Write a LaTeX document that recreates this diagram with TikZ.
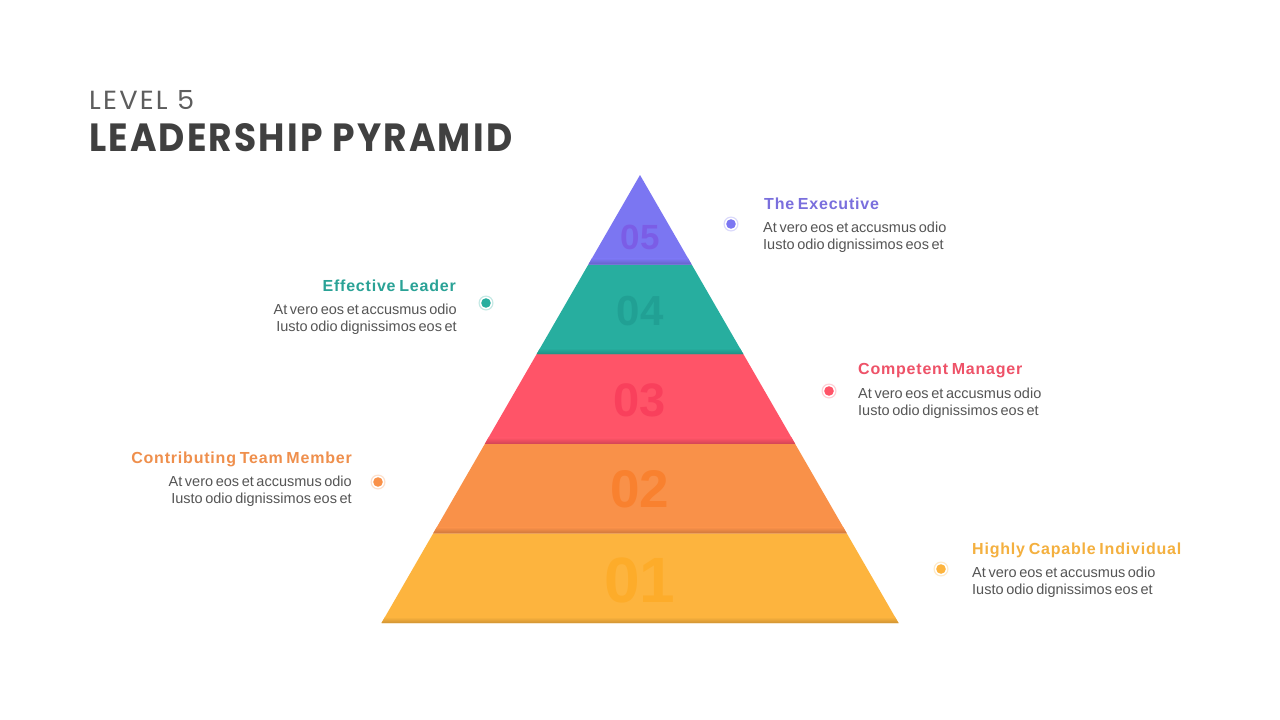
\documentclass[tikz,border=0pt]{standalone}
\usepackage{fontspec}
\setmainfont{Liberation Sans}
\newfontfamily\popfont[LetterSpace=8]{Poppins}
\newfontfamily\popbold[LetterSpace=6]{Poppins}
\newfontfamily\headfont[LetterSpace=5,WordSpace=0.7]{Liberation Sans}
\newfontfamily\bodyfont[WordSpace=0.65]{Liberation Sans}
\usepackage{graphicx}
\definecolor{c5}{HTML}{7B76F2}
\definecolor{c4}{HTML}{27AE9F}
\definecolor{c3}{HTML}{FF5468}
\definecolor{c2}{HTML}{F99149}
\definecolor{c1}{HTML}{FDB43E}
\definecolor{n5}{HTML}{7B5DE6}
\definecolor{n4}{HTML}{21A094}
\definecolor{n3}{HTML}{F9405C}
\definecolor{n2}{HTML}{F9812F}
\definecolor{n1}{HTML}{FDAC2A}
\definecolor{t5}{HTML}{7A6FDD}
\definecolor{t4}{HTML}{2AA296}
\definecolor{t3}{HTML}{EE5268}
\definecolor{t2}{HTML}{EF8F4C}
\definecolor{t1}{HTML}{F4B03F}
\definecolor{bodygrey}{HTML}{555555}
\definecolor{titlegrey}{HTML}{404040}
\tikzset{
  ttl/.style={inner sep=0pt, text=#1, font=\headfont\fontsize{16}{19}\selectfont\bfseries},
  body/.style={inner sep=0pt, text=bodygrey, font=\bodyfont\fontsize{14.5}{17}\selectfont},
  num/.style={inner sep=0pt, text=#1, font=\bfseries},
}
\newcommand{\bandfill}[5]{% color, ytop, hwtop, ybot, hwbot
  \fill[#1] (640-#3,#2) -- (640+#3,#2) -- (640+#5,#4) -- (640-#5,#4) -- cycle;
  \begin{scope}
    \clip (640-#3,#2) -- (640+#3,#2) -- (640+#5,#4) -- (640-#5,#4) -- cycle;
    \shade[top color=#1, bottom color=#1!82!black] (370,#4-6) rectangle (910,#4);
  \end{scope}}
\newcommand{\dotmark}[2]{% coordinate name, color
  \fill[#2!28] (#1) circle (7.5);
  \fill[white] (#1) circle (6.2);
  \fill[#2] (#1) circle (4.8);}
\begin{document}
\begin{tikzpicture}[x=1pt,y=-1pt]
\useasboundingbox (0,0) rectangle (1280,720);
\fill[white] (0,0) rectangle (1280,720);

% title
\node[inner sep=0pt, anchor=south west, text=titlegrey!85] (lvl) at (89,110)
  {\resizebox{105pt}{19pt}{\popfont LEVEL 5}};
\node[inner sep=0pt, anchor=south west, text=titlegrey] (ttlmain) at (89,152)
  {\resizebox{423pt}{28pt}{\popbold\bfseries LEADERSHIP PYRAMID}};

% pyramid bands
\bandfill{c1}{533.4}{206.8}{623}{258.5}
\bandfill{c2}{443.8}{155.1}{533.4}{206.8}
\bandfill{c3}{354.2}{103.4}{443.8}{155.1}
\bandfill{c4}{264.6}{51.7}{354.2}{103.4}
\bandfill{c5}{175}{0}{264.6}{51.7}

% numbers
\node[num=n5, font=\fontsize{35}{35}\selectfont\bfseries] (num5) at (640,237) {05};
\node[num=n4, font=\fontsize{42}{42}\selectfont\bfseries] (num4) at (640,311) {04};
\node[num=n3, font=\fontsize{47}{47}\selectfont\bfseries] (num3) at (640,400) {03};
\node[num=n2, font=\fontsize{53}{53}\selectfont\bfseries] (num2) at (640,489) {02};
\node[num=n1, font=\fontsize{64}{64}\selectfont\bfseries] (num1) at (640,580) {01};

% dots
\coordinate (d5) at (731,224);
\coordinate (d4) at (486,303);
\coordinate (d3) at (829,391);
\coordinate (d2) at (378,482);
\coordinate (d1) at (941,569);
\dotmark{d5}{c5}
\dotmark{d4}{c4}
\dotmark{d3}{c3}
\dotmark{d2}{c2}
\dotmark{d1}{c1}

% texts level 5
\node[ttl=t5, anchor=base west] (h5) at (764,209) {The Executive};
\node[body, anchor=base west] (b5a) at (763,232) {At vero eos et accusmus odio};
\node[body, anchor=base west] (b5b) at (763,249) {Iusto odio dignissimos eos et};
% level 4
\node[ttl=t4, anchor=base east] (h4) at (456,291) {Effective Leader};
\node[body, anchor=base east] (b4a) at (457,314) {At vero eos et accusmus odio};
\node[body, anchor=base east] (b4b) at (457,331) {Iusto odio dignissimos eos et};
% level 3
\node[ttl=t3, anchor=base west] (h3) at (858,374) {Competent Manager};
\node[body, anchor=base west] (b3a) at (858,398) {At vero eos et accusmus odio};
\node[body, anchor=base west] (b3b) at (858,415) {Iusto odio dignissimos eos et};
% level 2
\node[ttl=t2, anchor=base east] (h2) at (352,463) {Contributing Team Member};
\node[body, anchor=base east] (b2a) at (352,486) {At vero eos et accusmus odio};
\node[body, anchor=base east] (b2b) at (352,503) {Iusto odio dignissimos eos et};
% level 1
\node[ttl=t1, anchor=base west] (h1) at (972,554) {Highly Capable Individual};
\node[body, anchor=base west] (b1a) at (972,577) {At vero eos et accusmus odio};
\node[body, anchor=base west] (b1b) at (972,594) {Iusto odio dignissimos eos et};
\end{tikzpicture}
\end{document}
